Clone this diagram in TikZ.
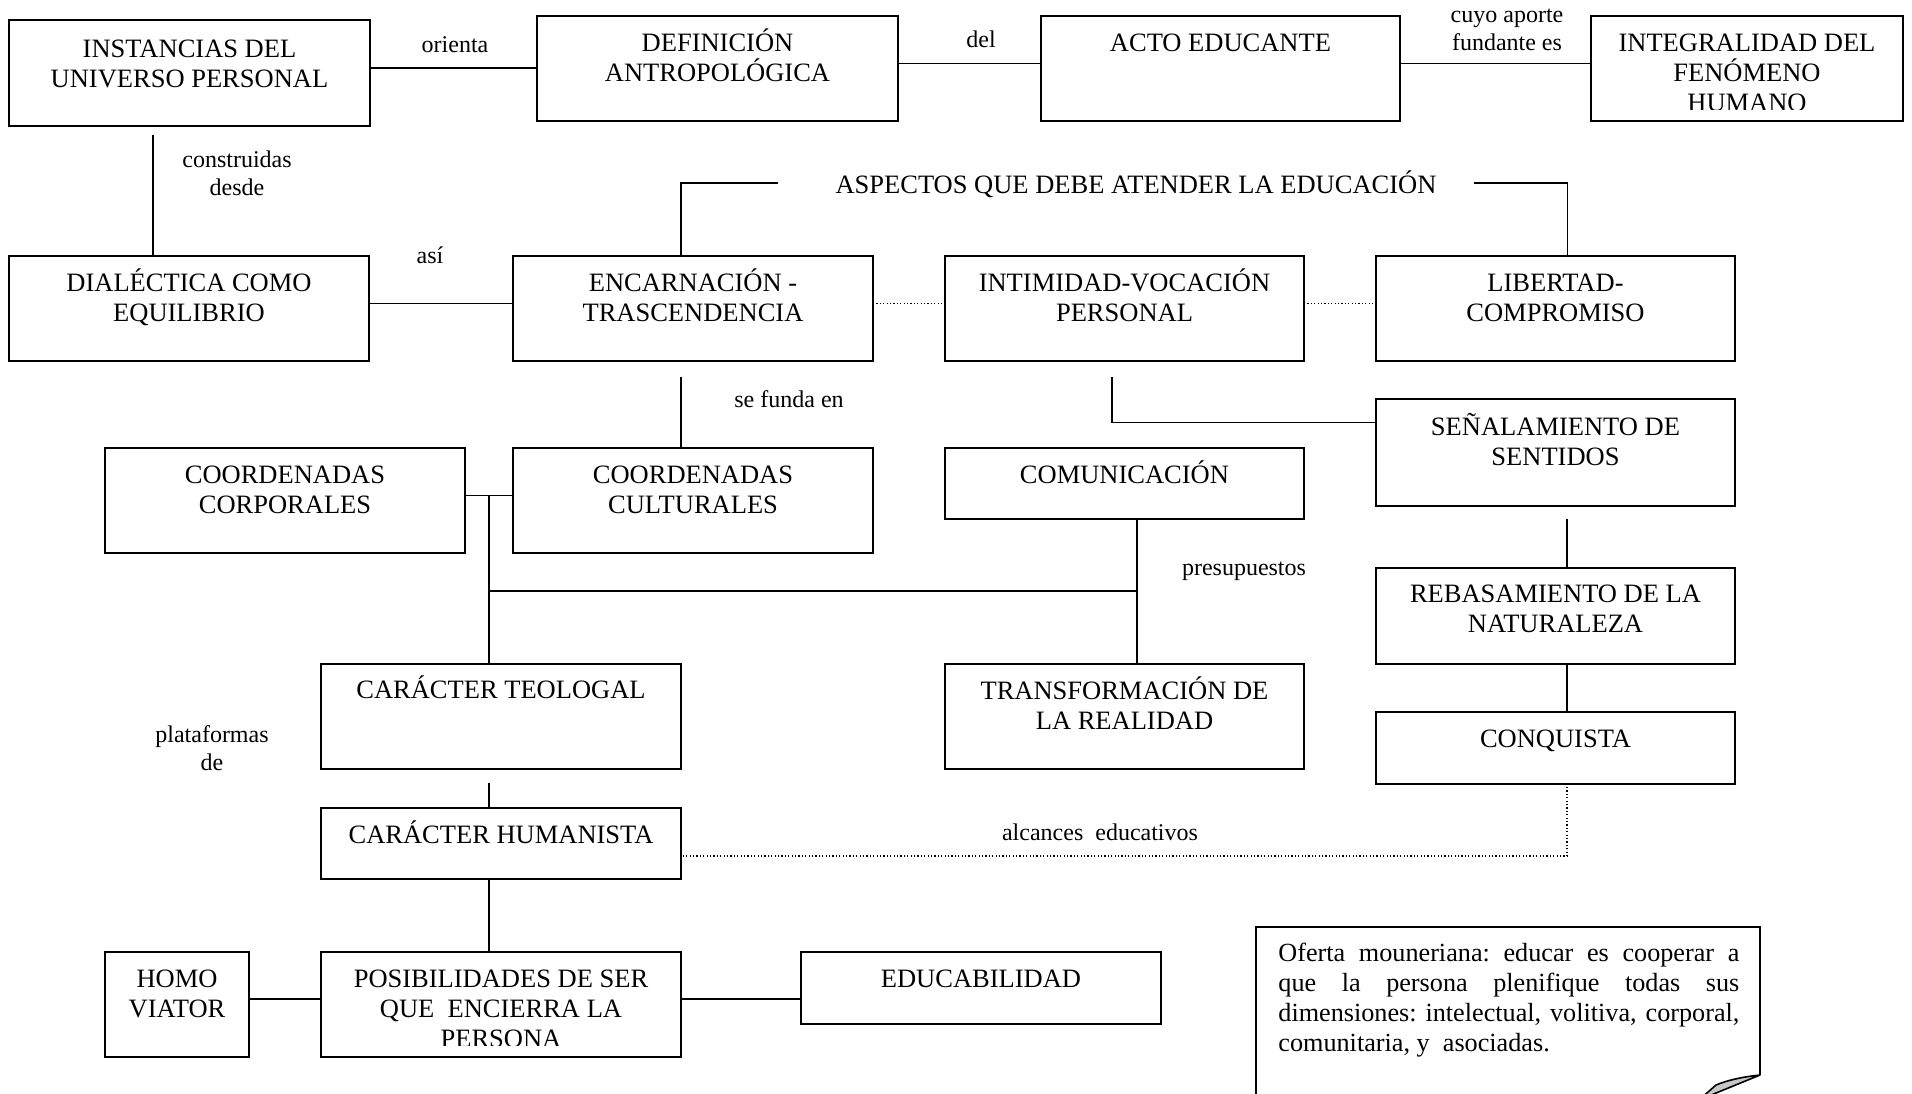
\documentclass[tikz,border=0pt]{standalone}
\usepackage{fontspec}
\setmainfont{Liberation Serif}
\usetikzlibrary{fit,calc}
\begin{document}
\begin{tikzpicture}[x=0.5pt,y=-0.5pt,
  box/.style={draw, line width=1pt, inner sep=0pt, outer sep=0pt},
  btxt/.style={anchor=base, align=center, inner sep=0pt, font=\fontsize{13.25pt}{15pt}\selectfont},
  lbl/.style={anchor=base, align=center, inner sep=0pt, font=\fontsize{12pt}{14pt}\selectfont},
  conn/.style={line width=0.75pt},
  dots/.style={line width=0.6pt, dash pattern=on 0.6pt off 1.1pt}]
\useasboundingbox (0,0) rectangle (1912,1093);

% ---- boxes ----
\node[box, fit={(9,20) (370,126)}]     (ins)   {};
\node[box, fit={(537,16) (898,121)}]   (def)   {};
\node[box, fit={(1041,16) (1400,121)}] (acto)  {};
\node[box, fit={(1591,16) (1903,121)}] (integ) {};
\node[box, fit={(9,256) (369,361)}]    (dial)  {};
\node[box, fit={(513,256) (873,361)}]  (enc)   {};
\node[box, fit={(945,256) (1304,361)}] (inti)  {};
\node[box, fit={(1376,256) (1735,361)}] (lib)  {};
\node[box, fit={(105,448) (465,553)}]  (corp)  {};
\node[box, fit={(513,448) (873,553)}]  (cult)  {};
\node[box, fit={(945,448) (1304,519)}] (com)   {};
\node[box, fit={(1376,399) (1735,506)}] (sen)  {};
\node[box, fit={(1376,568) (1735,664)}] (reb)  {};
\node[box, fit={(1376,712) (1735,784)}] (conq) {};
\node[box, fit={(321,664) (681,769)}]  (teo)   {};
\node[box, fit={(945,664) (1304,769)}] (trans) {};
\node[box, fit={(321,808) (681,879)}]  (hum)   {};
\node[box, fit={(105,952) (249,1057)}] (homo)  {};
\node[box, fit={(321,952) (681,1057)}] (posib) {};
\node[box, fit={(801,952) (1161,1024)}] (educ) {};

% ---- box texts (anchored at the baseline of the last line; lines 30 apart) ----
\node[btxt] (t-ins)  at ($(ins.north)+(0,67)$)  {INSTANCIAS DEL\\UNIVERSO PERSONAL};
\node[btxt] (t-def)  at ($(def.north)+(0,65)$)  {DEFINICIÓN\\ANTROPOLÓGICA};
\node[btxt] (t-acto) at ($(acto.north)+(0,35)$) {ACTO EDUCANTE};
\begin{scope}
  \clip (1591,16) rectangle (1903,109);
  \node[btxt] (t-integ) at ($(integ.north)+(0,95)$) {INTEGRALIDAD DEL\\FENÓMENO\\HUMANO};
\end{scope}
\node[btxt] (t-dial) at ($(dial.north)+(0,65)$) {DIALÉCTICA COMO\\EQUILIBRIO};
\node[btxt] (t-enc)  at ($(enc.north)+(0,65)$)  {ENCARNACIÓN -\\TRASCENDENCIA};
\node[btxt] (t-inti) at ($(inti.north)+(0,65)$) {INTIMIDAD-VOCACIÓN\\PERSONAL};
\node[btxt] (t-lib)  at ($(lib.north)+(0,65)$)  {LIBERTAD-\\COMPROMISO};
\node[btxt] (t-corp) at ($(corp.north)+(0,65)$) {COORDENADAS\\CORPORALES};
\node[btxt] (t-cult) at ($(cult.north)+(0,65)$) {COORDENADAS\\CULTURALES};
\node[btxt] (t-com)  at ($(com.north)+(0,35)$)  {COMUNICACIÓN};
\node[btxt] (t-sen)  at ($(sen.north)+(0,66)$)  {SEÑALAMIENTO DE\\SENTIDOS};
\node[btxt] (t-reb)  at ($(reb.north)+(0,64)$)  {REBASAMIENTO DE LA\\NATURALEZA};
\node[btxt] (t-conq) at ($(conq.north)+(0,35)$) {CONQUISTA};
\node[btxt] (t-teo)  at ($(teo.north)+(0,34)$)  {CARÁCTER TEOLOGAL};
\node[btxt] (t-trans) at ($(trans.north)+(0,65)$) {TRANSFORMACIÓN DE\\LA REALIDAD};
\node[btxt] (t-hum)  at ($(hum.north)+(0,35)$)  {CARÁCTER HUMANISTA};
\node[btxt] (t-homo) at ($(homo.north)+(0,65)$) {HOMO\\VIATOR};
\begin{scope}
  \clip (321,952) rectangle (681,1045);
  \node[btxt] (t-posib) at ($(posib.north)+(0,95)$) {POSIBILIDADES DE SER\\QUE\ \ ENCIERRA LA\\PERSONA};
\end{scope}
\node[btxt] (t-educ) at ($(educ.north)+(0,35)$) {EDUCABILIDAD};

\node[btxt] (asp) at (1136,193) {ASPECTOS QUE DEBE ATENDER LA EDUCACIÓN};

% ---- connector labels ----
\node[lbl] (l-orienta) at (455,52)  {orienta};
\node[lbl] (l-constr)  at (237,195) {construidas\\desde};
\node[lbl] (l-asi)     at (430,263) {así};
\node[lbl] (l-del)     at (981,47)  {del};
\node[lbl] (l-cuyo)    at (1507,50) {cuyo aporte\\fundante es};
\node[lbl] (l-funda)   at (789,407) {se funda en};
\node[lbl] (l-presup)  at (1244,575) {presupuestos};
\node[lbl] (l-plat)    at (212,770) {plataformas\\de};
\node[lbl] (l-alc)     at (1100,840) {alcances\ \ educativos};

% ---- connectors ----
\coordinate (k1) at ($(ins.east)+(0,-5)$);
\draw[conn] (k1) -- (k1 -| def.west);
\coordinate (k2) at ($(def.east)+(0,-5)$);
\draw[conn] (k2) -- (k2 -| acto.west);
\coordinate (k3) at ($(acto.east)+(0,-5)$);
\draw[conn] (k3) -- (k3 -| integ.west);
\coordinate (k4) at (153,135);
\draw[conn] (k4) -- (k4 |- dial.north);
\coordinate (k5) at ($(dial.east)+(0,-5)$);
\draw[conn] (k5) -- (k5 -| enc.west);

\coordinate (k6) at (778,183);
\draw[conn] (k6) -| ($(enc.north)+(-12,0)$);
\coordinate (k7) at (1474,183);
\draw[conn] (k7) -| ($(lib.north)+(12,0)$);

\coordinate (k8) at ($(enc.east)+(0,-5)$);
\draw[dots] (k8) -- (k8 -| inti.west);
\coordinate (k9) at ($(inti.east)+(0,-5)$);
\draw[dots] (k9) -- (k9 -| lib.west);

\coordinate (k10) at (681,377);
\draw[conn] (k10) -- (k10 |- cult.north);
\coordinate (k11) at ($(corp.east)+(0,-5)$);
\draw[conn] (k11) -- (k11 -| cult.west);
\coordinate (k12) at (489,496);
\draw[conn] (k12) -- (k12 |- teo.north);
\coordinate (k13) at ($(com.south)+(12.5,0)$);
\draw[conn] (k13) -- (k13 |- trans.north);
\coordinate (k14) at (489,591);
\draw[conn] (k14) -- (k14 -| k13);

\coordinate (k15) at (1112,377);
\draw[conn] (k15) |- ($(sen.west)+(0,-30)$);
\coordinate (k16) at (1567,519);
\draw[conn] (k16) -- (k16 |- reb.north);
\coordinate (k17) at ($(reb.south)+(11.5,0)$);
\draw[conn] (k17) -- (k17 |- conq.north);
\coordinate (k18) at ($(conq.south)+(11.5,3)$);
\draw[dots] (k18) |- ($(hum.east)+(2,12.5)$);

\coordinate (k19) at (489,783);
\draw[conn] (k19) -- (k19 |- hum.north);
\coordinate (k20) at ($(hum.south)+(-12,0)$);
\draw[conn] (k20) -- (k20 |- posib.north);
\coordinate (k21) at ($(homo.east)+(0,-5.5)$);
\draw[conn] (k21) -- (k21 -| posib.west);
\coordinate (k22) at ($(posib.east)+(0,-5.5)$);
\draw[conn] (k22) -- (k22 -| educ.west);

% ---- note with folded corner ----
\draw[line width=1pt, line join=miter] (1256,1100) -- (1256,927) -- (1760,927) -- (1760,1075);
\draw[line width=0.8pt, fill=black!22, line join=round]
  (1760,1075) .. controls (1742,1077) and (1728,1080) .. (1716,1085)
  -- (1699,1100) -- cycle;
\node[anchor=north west, inner sep=0pt, text width=230.5pt, align=justify,
      font=\fontsize{13.1pt}{15pt}\selectfont] (oferta) at (1278,943)
  {\frenchspacing\tolerance=10000\hbadness=10000\hyphenpenalty=10000\noindent
   Oferta mouneriana: educar es cooperar a\linebreak
   que la persona plenifique todas sus\linebreak
   dimensiones: intelectual, volitiva, corporal,\linebreak
   comunitaria, y\ \ asociadas.};
\end{tikzpicture}
\end{document}
